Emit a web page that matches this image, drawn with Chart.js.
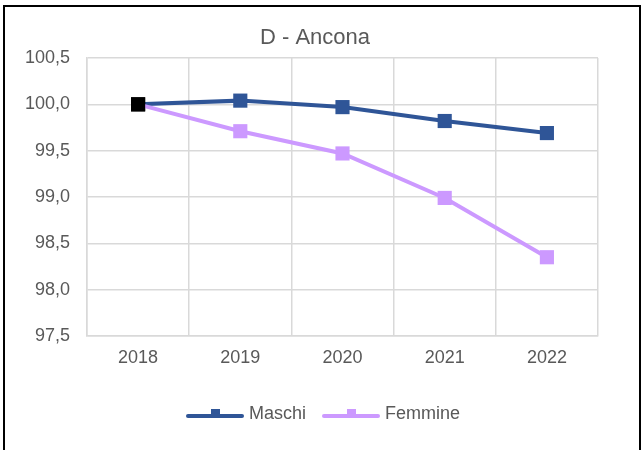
<!DOCTYPE html>
<html>
<head>
<meta charset="utf-8">
<script src="https://cdn.jsdelivr.net/npm/chart.js@4"></script>
<style>
  html, body { margin: 0; padding: 0; background: #fff; }
  #wrap { position: relative; width: 642px; height: 450px; overflow: hidden; }
  #frame { position: absolute; left: 3px; top: 5px; width: 634px; height: 470px; border: 2px solid #000; pointer-events: none; }
  canvas { position: absolute; left: 0; top: 0; }
</style>
</head>
<body>
<div id="wrap">
  <canvas id="c" width="642" height="450"></canvas>
  <div id="frame"></div>
</div>
<script>
const categories = ['2018', '2019', '2020', '2021', '2022'];
const maschi = [100.0, 100.04, 99.97, 99.82, 99.69];
const femmine = [100.0, 99.71, 99.47, 98.99, 98.35];
const seriesNames = ['Maschi', 'Femmine'];
const yTicks = [97.5, 98.0, 98.5, 99.0, 99.5, 100.0, 100.5];

const colM = '#2F5597';
const colF = '#CC99FF';
const textCol = '#595959';
const fontFam = '"Liberation Sans", Arial, sans-serif';

function legendIcon(color) {
  const cv = document.createElement('canvas');
  cv.width = 58; cv.height = 14;
  const g = cv.getContext('2d');
  g.strokeStyle = color; g.lineWidth = 4; g.lineCap = 'round';
  g.beginPath(); g.moveTo(2, 9); g.lineTo(56, 9); g.stroke();
  g.fillStyle = color;
  g.fillRect(25, 2, 9, 9);
  return cv;
}
const iconM = legendIcon(colM);
const iconF = legendIcon(colF);

const shiftPlugin = {
  id: 'shiftBoxes',
  afterLayout(chart) {
    if (chart.legend) { chart.legend.left += 21; chart.legend.right += 21; }
    if (chart.titleBlock) { chart.titleBlock.left += 11; chart.titleBlock.right += 11; }
  }
};

new Chart(document.getElementById('c'), {
  type: 'line',
  plugins: [shiftPlugin],
  data: {
    labels: categories,
    datasets: [
      {
        label: seriesNames[0], data: maschi,
        borderColor: colM, backgroundColor: colM, borderWidth: 4,
        pointStyle: 'rect', pointRadius: 10, pointHoverRadius: 10, pointBorderWidth: 0,
        pointBackgroundColor: ['#000000', colM, colM, colM, colM],
        order: 2
      },
      {
        label: seriesNames[1], data: femmine,
        borderColor: colF, backgroundColor: colF, borderWidth: 4,
        pointStyle: 'rect', pointRadius: 10, pointHoverRadius: 10, pointBorderWidth: 0,
        pointBackgroundColor: ['#000000', colF, colF, colF, colF],
        order: 1
      }
    ]
  },
  options: {
    responsive: false,
    animation: false,
    events: [],
    layout: { padding: { left: 10, right: 44, top: 0, bottom: 17 } },
    plugins: {
      title: {
        display: true, text: 'D - Ancona', color: textCol,
        font: { family: fontFam, size: 22, weight: 'normal' },
        padding: { top: 25, bottom: 6.6 }
      },
      legend: {
        position: 'bottom',
        labels: {
          color: textCol,
          font: { family: fontFam, size: 18 },
          usePointStyle: true,
          pointStyleWidth: 50,
          padding: 20,
          generateLabels: (chart) => chart.data.datasets.map((ds, i) => ({
            text: ds.label, fillStyle: ds.borderColor, strokeStyle: ds.borderColor,
            lineWidth: 0, pointStyle: i === 0 ? iconM : iconF, datasetIndex: i, fontColor: textCol
          }))
        }
      },
      tooltip: { enabled: false }
    },
    scales: {
      x: {
        offset: true,
        grid: { offset: true, color: '#D9D9D9', lineWidth: 1.5, drawTicks: false },
        border: { color: '#D9D9D9', width: 1.5 },
        ticks: { color: textCol, font: { family: fontFam, size: 18 }, padding: 11 },
        afterFit: (s) => { s.height = 49; }
      },
      y: {
        min: 97.5, max: 100.5,
        grid: { color: '#D9D9D9', lineWidth: 1.5, drawTicks: false },
        border: { color: '#D9D9D9', width: 1.5 },
        afterBuildTicks: (s) => { s.ticks = yTicks.map(v => ({ value: v })); },
        ticks: {
          color: textCol, font: { family: fontFam, size: 18 }, padding: 17,
          callback: (v) => Number(v).toFixed(1).replace('.', ',')
        },
        afterFit: (s) => { s.width = 77; }
      }
    }
  }
});
</script>
</body>
</html>
